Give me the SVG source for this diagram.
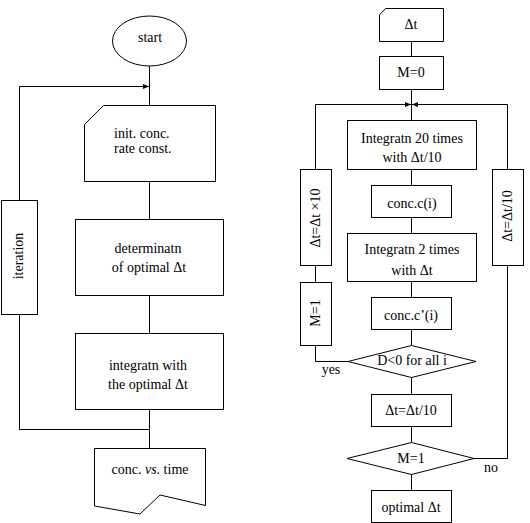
<svg xmlns="http://www.w3.org/2000/svg" width="530" height="523" viewBox="0 0 530 523">
<style>
.s{fill:#fff;stroke:#000;stroke-width:1}
.l{fill:none;stroke:#000;stroke-width:1}
text{font-family:"Liberation Serif","Times New Roman",serif;font-size:14px;fill:#000}
.m{text-anchor:middle}
</style>
<defs>
<marker id="ah" viewBox="0 0 6 6" refX="6" refY="3" markerWidth="6" markerHeight="6" markerUnits="userSpaceOnUse" orient="auto">
<path d="M0,0.5 L6,3 L0,5.5 Z" fill="#000"/>
</marker>
</defs>
<rect width="530" height="523" fill="#fff"/>
<g id="connectors">
<path class="l" d="M149.5,66 V105"/>
<path class="l" d="M19.5,200 V86.5 H149" marker-end="url(#ah)"/>
<path class="l" d="M149.5,181 V219"/>
<path class="l" d="M149.5,295 V333"/>
<path class="l" d="M149.5,409 V448"/>
<path class="l" d="M19.5,314 V429.5 H149.5"/>
<path class="l" d="M411.5,41 V56"/>
<path class="l" d="M411.5,89 V120"/>
<path class="l" d="M411.5,169 V185"/>
<path class="l" d="M411.5,218 V233"/>
<path class="l" d="M411.5,281 V297"/>
<path class="l" d="M411.5,329 V345"/>
<path class="l" d="M411.5,377 V394"/>
<path class="l" d="M411.5,426 V442"/>
<path class="l" d="M411.5,474 V490"/>
<path class="l" d="M315.5,169 V104.5 H411" marker-end="url(#ah)"/>
<path class="l" d="M315.5,265 V282"/>
<path class="l" d="M348,361.5 H315.5 V345"/>
<path class="l" d="M474,458.5 H507.5 V265"/>
<path class="l" d="M507.5,169 V104.5 H412" marker-end="url(#ah)"/>
</g>
<g id="start">
<ellipse class="s" cx="149.5" cy="41" rx="37" ry="25"/>
<text class="m" x="150" y="42">start</text>
</g>
<g id="init">
<path class="s" d="M103.5,105.5 H215.5 V181.5 H84.5 V124.5 Z"/>
<text x="114" y="138">init. conc.</text>
<text x="114" y="153">rate const.</text>
</g>
<g id="determinatn">
<rect class="s" x="75.5" y="219.5" width="148" height="76"/>
<text class="m" x="148" y="253">determinatn</text>
<text class="m" x="149" y="272">of optimal Δt</text>
</g>
<g id="integratn">
<rect class="s" x="75.5" y="333.5" width="148" height="76"/>
<text class="m" x="148" y="370">integratn with</text>
<text class="m" x="148" y="389">the optimal Δt</text>
</g>
<g id="iteration">
<rect class="s" x="1.5" y="200.5" width="36" height="114"/>
<text class="m" transform="translate(23,256) rotate(-90)">iteration</text>
</g>
<g id="output">
<path class="s" d="M94.5,448.5 H205.5 V505.5 L160,495 L140,514 L94.5,506 Z"/>
<text class="m" x="150" y="474">conc. <tspan font-style="italic">vs</tspan>. time</text>
</g>
<g id="dt-in">
<path class="s" d="M385.5,8.5 H443.5 V41.5 H379.5 V15 Z"/>
<text class="m" x="411" y="29">Δt</text>
</g>
<g id="m0">
<rect class="s" x="379.5" y="56.5" width="64" height="33"/>
<text class="m" x="411" y="77">M=0</text>
</g>
<g id="int20">
<rect class="s" x="347.5" y="120.5" width="129" height="49"/>
<text class="m" x="412" y="143">Integratn 20 times</text>
<text class="m" x="412" y="162">with Δt/10</text>
</g>
<g id="conc-c">
<rect class="s" x="371.5" y="185.5" width="80" height="32"/>
<text class="m" x="412" y="208">conc.c(i)</text>
</g>
<g id="int2">
<rect class="s" x="347.5" y="233.5" width="129" height="48"/>
<text class="m" x="412" y="254">Integratn 2 times</text>
<text class="m" x="412" y="275">with Δt</text>
</g>
<g id="conc-c2">
<rect class="s" x="371.5" y="297.5" width="80" height="32"/>
<text class="m" x="411" y="320">conc.c’(i)</text>
</g>
<g id="d-check">
<path class="s" d="M411.5,345.5 L476,361.5 L411.5,377.5 L348,361.5 Z"/>
<text class="m" x="412" y="365">D&lt;0 for all i</text>
</g>
<g id="dt-div">
<rect class="s" x="371.5" y="394.5" width="80" height="32"/>
<text class="m" x="411" y="415">Δt=Δt/10</text>
</g>
<g id="m1-check">
<path class="s" d="M411.5,442.5 L474,458.5 L411.5,474.5 L347,458.5 Z"/>
<text class="m" x="411" y="463">M=1</text>
</g>
<g id="optimal">
<rect class="s" x="371.5" y="490.5" width="80" height="32"/>
<text class="m" x="411" y="512">optimal Δt</text>
</g>
<g id="dt-mul">
<rect class="s" x="300.5" y="169.5" width="31" height="96"/>
<text class="m" transform="translate(320,218) rotate(-90)">Δt=Δt ×10</text>
</g>
<g id="m1-set">
<rect class="s" x="300.5" y="282.5" width="31" height="63"/>
<text class="m" transform="translate(320,313) rotate(-90)">M=1</text>
</g>
<g id="dt-div2">
<rect class="s" x="492.5" y="169.5" width="31" height="96"/>
<text class="m" transform="translate(512,216) rotate(-90)">Δt=Δt/10</text>
</g>
<text class="m" x="331" y="374">yes</text>
<text class="m" x="491" y="472">no</text>
</svg>
